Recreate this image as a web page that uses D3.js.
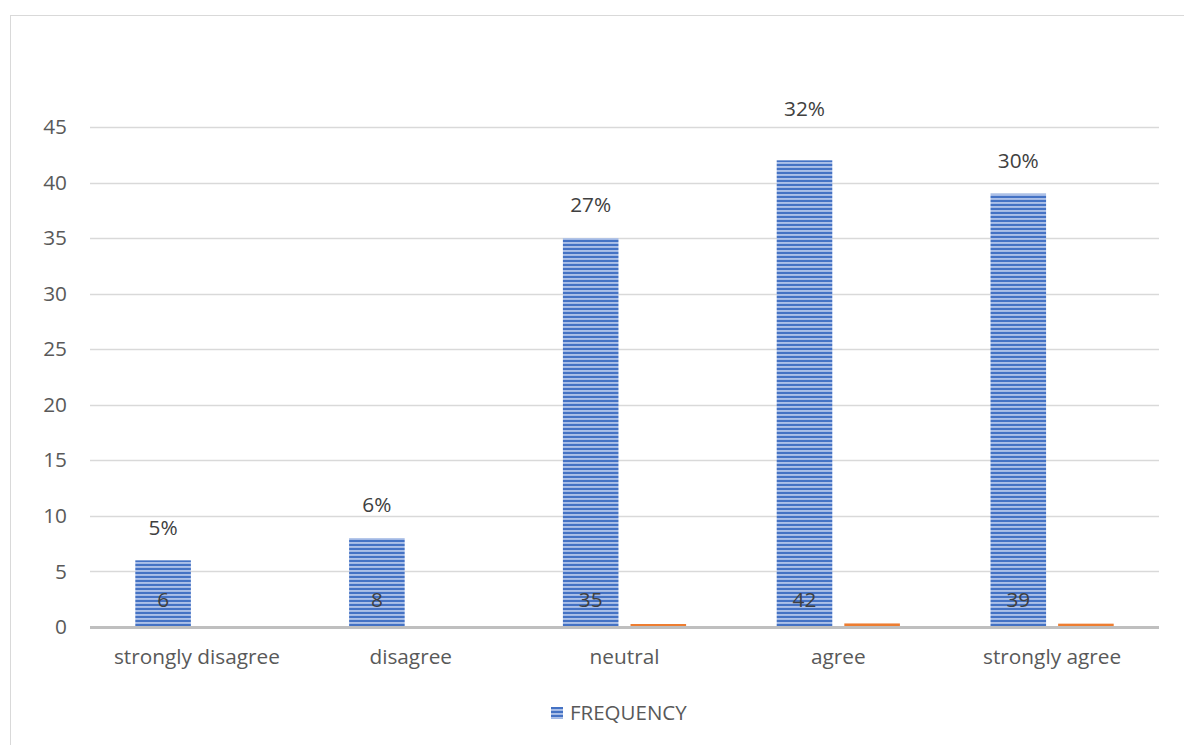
<!DOCTYPE html>
<html>
<head>
<meta charset="utf-8">
<script src="https://cdn.jsdelivr.net/npm/d3@7"></script>
<style>
  html, body { margin: 0; padding: 0; background: #ffffff; }
  svg { display: block; font-family: "Open Sans", Lato, sans-serif; }
</style>
</head>
<body>
<svg id="chart" width="1184" height="745"></svg>
<script>
// Survey responses: count per answer and the share of all respondents
const categories = ["strongly disagree", "disagree", "neutral", "agree", "strongly agree"];
const frequency = [6, 8, 35, 42, 39];
const share = [0.05, 0.06, 0.27, 0.32, 0.30];
const shareLabels = ["5%", "6%", "27%", "32%", "30%"];
const yTicks = [0, 5, 10, 15, 20, 25, 30, 35, 40, 45];
const seriesNames = ["FREQUENCY", "PERCENT"];

const FONT = "'Open Sans', Lato, sans-serif";
const FS = 20.8;

const svg = d3.select("#chart");
const plot = { left: 90, right: 1159, top: 127, bottom: 627 };

// chart frame
svg.append("rect")
  .attr("x", 10.5).attr("y", 15.5)
  .attr("width", 1200).attr("height", 760)
  .attr("fill", "#ffffff").attr("stroke", "#d9d9d9").attr("stroke-width", 1);

// horizontal stripe fill for the frequency bars
const defs = svg.append("defs");
const pat = defs.append("pattern")
  .attr("id", "stripes").attr("patternUnits", "userSpaceOnUse")
  .attr("width", 8).attr("height", 4);
pat.append("rect").attr("width", 8).attr("height", 4).attr("fill", "#4472c4");
pat.append("rect").attr("y", 2.1).attr("width", 8).attr("height", 1.7).attr("fill", "#b8c9ec");

const x = d3.scaleBand().domain(categories).range([plot.left, plot.right]).padding(0);
const xs = d3.scaleBand().domain(seriesNames).range([0, x.bandwidth()])
  .paddingInner(0.178).paddingOuter(0.67);
const y = d3.scaleLinear().domain([0, 45]).range([plot.bottom, plot.top]);

// gridlines
svg.append("g")
  .selectAll("line").data(yTicks.filter(t => t > 0)).join("line")
  .attr("x1", plot.left).attr("x2", plot.right)
  .attr("y1", d => Math.round(y(d)) + 0.5).attr("y2", d => Math.round(y(d)) + 0.5)
  .attr("stroke", "#d9d9d9").attr("stroke-width", 1.3);

// y axis labels
const yAxis = d3.axisLeft(y).tickValues(yTicks).tickSize(0).tickPadding(0);
const gy = svg.append("g").attr("transform", `translate(67,0)`).call(yAxis);
gy.select(".domain").remove();
gy.selectAll("text")
  .attr("font-size", FS).attr("fill", "#595959")
  .style("font-family", FONT);

// bars
const groups = svg.append("g").selectAll("g").data(categories).join("g")
  .attr("transform", d => `translate(${x(d)},0)`);

groups.append("rect")
  .attr("x", xs("FREQUENCY")).attr("width", xs.bandwidth())
  .attr("y", (d, i) => y(frequency[i]))
  .attr("height", (d, i) => y(0) - y(frequency[i]))
  .attr("fill", "url(#stripes)");

groups.append("rect")
  .attr("x", xs("PERCENT")).attr("width", xs.bandwidth())
  .attr("y", (d, i) => y(share[i]))
  .attr("height", (d, i) => y(0) - y(share[i]))
  .attr("fill", "#ed7d31");

// baseline
svg.append("line")
  .attr("x1", plot.left).attr("x2", plot.right)
  .attr("y1", y(0) + 0.5).attr("y2", y(0) + 0.5)
  .attr("stroke", "#bfbfbf").attr("stroke-width", 3);

// counts inside the base of each bar
groups.append("text")
  .attr("x", xs("FREQUENCY") + xs.bandwidth() / 2)
  .attr("y", y(0) - 27)
  .attr("dy", "0.35em")
  .attr("text-anchor", "middle")
  .attr("font-size", FS).attr("fill", "#404040")
  .text((d, i) => frequency[i]);

// share labels above the frequency bars
const labelLift = { "agree": 19 };
groups.append("text")
  .attr("x", xs("FREQUENCY") + xs.bandwidth() / 2)
  .attr("y", (d, i) => y(frequency[i]) - 33 - (labelLift[d] || 0))
  .attr("dy", "0.35em")
  .attr("text-anchor", "middle")
  .attr("font-size", FS).attr("fill", "#404040")
  .text((d, i) => shareLabels[i]);

// category axis labels
const xAxis = d3.axisBottom(x).tickSize(0).tickPadding(0);
const gx = svg.append("g").attr("transform", `translate(0,${y(0) + 22})`).call(xAxis);
gx.select(".domain").remove();
gx.selectAll("text")
  .attr("dy", "0.71em")
  .attr("font-size", FS).attr("fill", "#595959")
  .style("font-family", FONT);

// legend
const legend = svg.append("g").attr("transform", "translate(551,707)");
legend.append("rect").attr("width", 12).attr("height", 12).attr("fill", "url(#stripes)");
legend.append("text")
  .attr("x", 19).attr("y", 6).attr("dy", "0.35em")
  .attr("font-size", 20.5).attr("fill", "#595959")
  .text(seriesNames[0]);
</script>
</body>
</html>
